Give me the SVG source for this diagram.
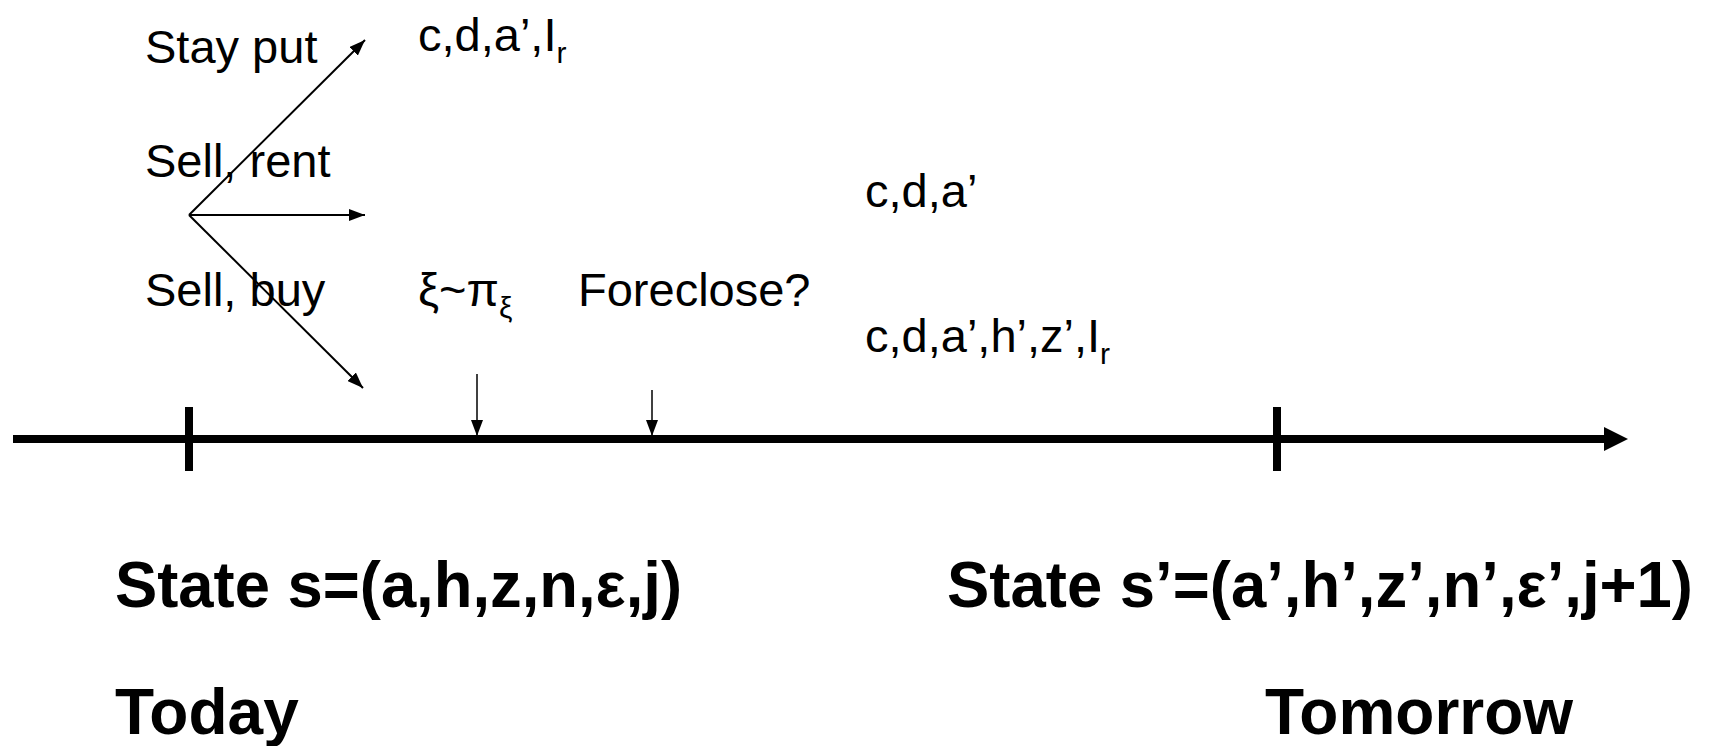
<svg xmlns="http://www.w3.org/2000/svg" width="1710" height="746" viewBox="0 0 1710 746">
<defs>
<style>
.t{font-family:"Liberation Sans",Arial,sans-serif;font-size:47px;fill:#000}
.b{font-family:"Liberation Sans",Arial,sans-serif;font-size:64px;font-weight:bold;fill:#000}
.s{font-size:30px}
.thin{stroke:#000;stroke-width:2;fill:none}
.hair{stroke:#000;stroke-width:1.5;fill:none}
</style>
<marker id="ah" markerWidth="10" markerHeight="10" refX="9" refY="5" orient="auto" markerUnits="userSpaceOnUse" viewBox="0 0 10 10">
<path d="M0,0 L10,5 L0,10 Z" fill="#000"/>
</marker>
<marker id="ah2" markerWidth="16" markerHeight="12" refX="16" refY="6" orient="auto" markerUnits="userSpaceOnUse" viewBox="0 0 16 12">
<path d="M0,0 L16,6 L0,12 Z" fill="#000"/>
</marker>
</defs>
<rect width="1710" height="746" fill="#fff"/>
<g id="connectors">
<line class="thin" x1="189" y1="215" x2="365" y2="40" marker-end="url(#ah2)"/>
<line class="thin" x1="189" y1="215" x2="365" y2="215" marker-end="url(#ah2)"/>
<line class="thin" x1="189" y1="215" x2="363" y2="388" marker-end="url(#ah2)"/>
<line class="hair" x1="477" y1="374" x2="477" y2="436" marker-end="url(#ah2)"/>
<line class="hair" x1="652" y1="390" x2="652" y2="436" marker-end="url(#ah2)"/>
</g>
<g id="timeline">
<line x1="13" y1="439" x2="1606" y2="439" stroke="#000" stroke-width="8"/>
<polygon points="1604,427 1628,439 1604,451" fill="#000"/>
<line x1="189" y1="407" x2="189" y2="471" stroke="#000" stroke-width="8"/>
<line x1="1277" y1="407" x2="1277" y2="471" stroke="#000" stroke-width="8"/>
</g>
<g id="stay-put"><text class="t" x="145" y="63">Stay put</text></g>
<g id="sell-rent"><text class="t" x="145" y="177">Sell, rent</text></g>
<g id="sell-buy"><text class="t" x="145" y="306">Sell, buy</text></g>
<g id="out-stay"><text class="t" x="418" y="51">c,d,a’,I<tspan class="s" dy="12">r</tspan></text></g>
<g id="shock"><text class="t" x="418" y="306">ξ~π<tspan class="s" dy="12">ξ</tspan></text></g>
<g id="foreclose"><text class="t" x="578" y="306">Foreclose?</text></g>
<g id="out-rent"><text class="t" x="865" y="207">c,d,a’</text></g>
<g id="out-buy"><text class="t" x="865" y="352">c,d,a’,h’,z’,I<tspan class="s" dy="12">r</tspan></text></g>
<g id="state-today"><text class="b" x="115" y="607" textLength="567" lengthAdjust="spacingAndGlyphs">State s=(a,h,z,n,ε,j)</text></g>
<g id="today"><text class="b" x="115" y="734">Today</text></g>
<g id="state-tomorrow"><text class="b" x="947" y="607" textLength="746" lengthAdjust="spacingAndGlyphs">State s’=(a’,h’,z’,n’,ε’,j+1)</text></g>
<g id="tomorrow"><text class="b" x="1265" y="734">Tomorrow</text></g>
</svg>
